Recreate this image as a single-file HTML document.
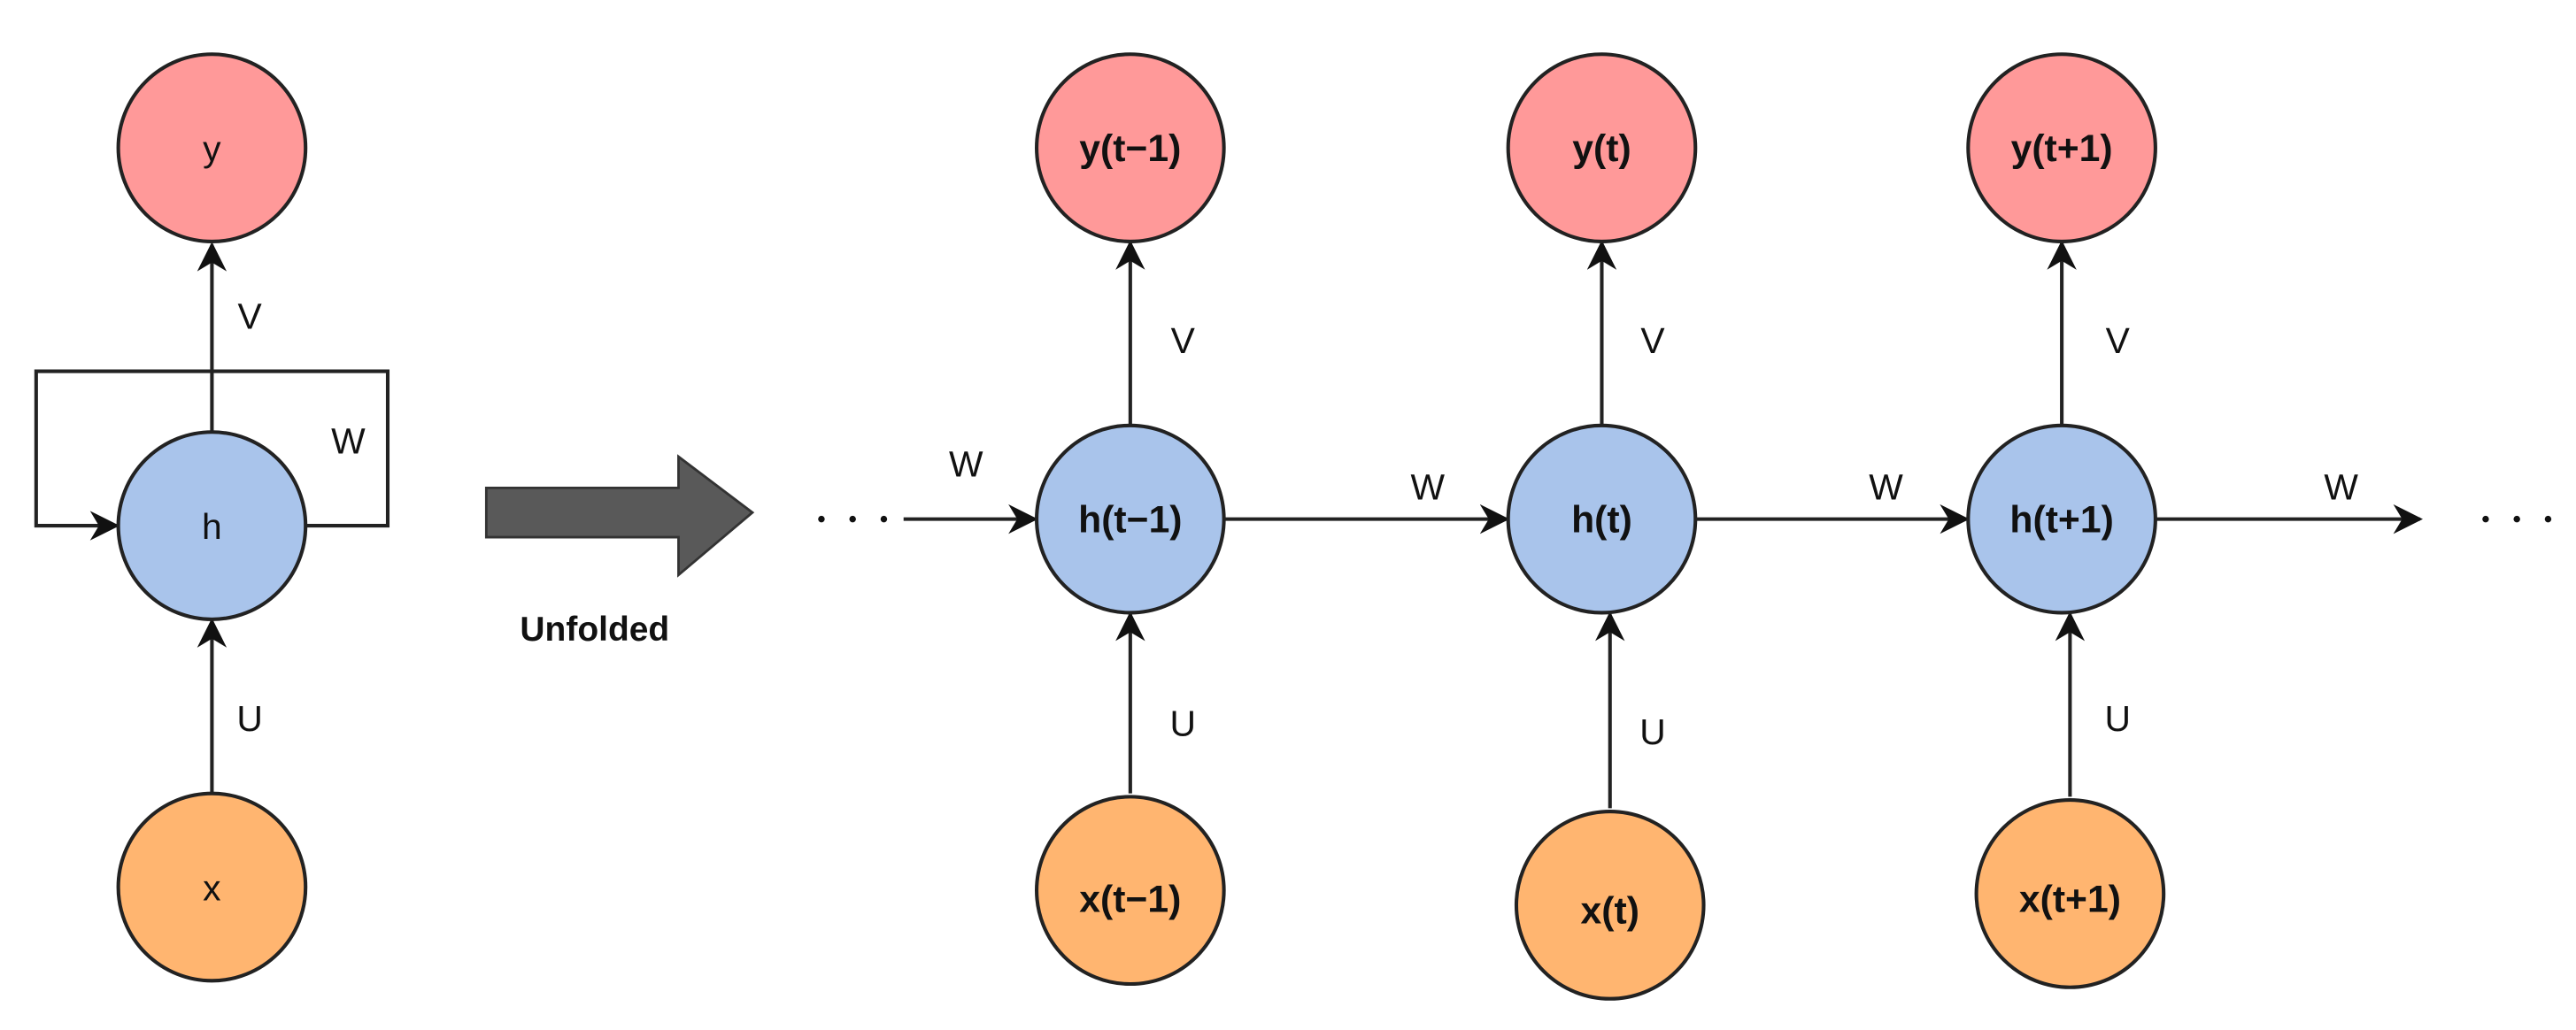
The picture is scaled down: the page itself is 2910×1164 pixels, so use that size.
<!DOCTYPE html>
<html><head><meta charset="utf-8"><style>
html,body{margin:0;padding:0;background:#fff;}
svg{display:block;}
text{font-family:"Liberation Sans",sans-serif;font-size:22px;fill:#111;}
.b{font-weight:bold;font-size:23px;}
</style></head><body>
<svg width="2910" height="1164" viewBox="0 0 1568 627" preserveAspectRatio="none" xmlns="http://www.w3.org/2000/svg">
<defs>
<marker id="m" viewBox="0 0 10 10" refX="9" refY="5" markerWidth="18" markerHeight="18" orient="auto" markerUnits="userSpaceOnUse">
<path d="M0,0 L10,5 L0,10 L3,5 z" fill="#111"/></marker>
</defs>
<g stroke="#222" stroke-width="2.2" fill="none">
<line x1="129" y1="263" x2="129" y2="149" marker-end="url(#m)"/>
<line x1="129" y1="483" x2="129" y2="378" marker-end="url(#m)"/>
<polyline points="186,320 236,320 236,226 22,226 22,320 71,320" marker-end="url(#m)"/>
<line x1="688" y1="259" x2="688" y2="148" marker-end="url(#m)"/>
<line x1="975" y1="259" x2="975" y2="148" marker-end="url(#m)"/>
<line x1="1255" y1="259" x2="1255" y2="148" marker-end="url(#m)"/>
<line x1="688" y1="483" x2="688" y2="374" marker-end="url(#m)"/>
<line x1="980" y1="492" x2="980" y2="374" marker-end="url(#m)"/>
<line x1="1260" y1="485" x2="1260" y2="374" marker-end="url(#m)"/>
<line x1="550" y1="316" x2="630" y2="316" marker-end="url(#m)"/>
<line x1="745" y1="316" x2="917" y2="316" marker-end="url(#m)"/>
<line x1="1032" y1="316" x2="1197" y2="316" marker-end="url(#m)"/>
<line x1="1312" y1="316" x2="1473" y2="316" marker-end="url(#m)"/>
</g>
<g stroke="#222" stroke-width="2.2">
<circle cx="129" cy="90" r="57" fill="#FF9999"/>
<circle cx="129" cy="320" r="57" fill="#A9C4EB"/>
<circle cx="129" cy="540" r="57" fill="#FFB570"/>
<circle cx="688" cy="90" r="57" fill="#FF9999"/>
<circle cx="975" cy="90" r="57" fill="#FF9999"/>
<circle cx="1255" cy="90" r="57" fill="#FF9999"/>
<circle cx="688" cy="316" r="57" fill="#A9C4EB"/>
<circle cx="975" cy="316" r="57" fill="#A9C4EB"/>
<circle cx="1255" cy="316" r="57" fill="#A9C4EB"/>
<circle cx="688" cy="542" r="57" fill="#FFB570"/>
<circle cx="980" cy="551" r="57" fill="#FFB570"/>
<circle cx="1260" cy="544" r="57" fill="#FFB570"/>
</g>
<polygon points="296,297 413,297 413,278 458,312 413,350 413,327 296,327" fill="#595959" stroke="#333" stroke-width="1.5"/>
<text x="362" y="390" text-anchor="middle" class="b" style="font-size:21px">Unfolded</text>
<g text-anchor="middle">
<text x="129" y="98">y</text>
<text x="129" y="328">h</text>
<text x="129" y="548">x</text>
<text x="152" y="200">V</text>
<text x="212" y="276">W</text>
<text x="152" y="445">U</text>
<text x="688" y="98" class="b">y(t−1)</text>
<text x="975" y="98" class="b">y(t)</text>
<text x="1255" y="98" class="b">y(t+1)</text>
<text x="688" y="324" class="b">h(t−1)</text>
<text x="975" y="324" class="b">h(t)</text>
<text x="1255" y="324" class="b">h(t+1)</text>
<text x="688" y="555" class="b">x(t−1)</text>
<text x="980" y="562" class="b">x(t)</text>
<text x="1260" y="555" class="b">x(t+1)</text>
<text x="720" y="215">V</text>
<text x="1006" y="215">V</text>
<text x="1289" y="215">V</text>
<text x="720" y="448">U</text>
<text x="1006" y="453">U</text>
<text x="1289" y="445">U</text>
<text x="588" y="290">W</text>
<text x="869" y="304">W</text>
<text x="1148" y="304">W</text>
<text x="1425" y="304">W</text>
</g>
<g fill="#111">
<circle cx="500" cy="316" r="2"/><circle cx="519" cy="316" r="2"/><circle cx="538" cy="316" r="2"/>
<circle cx="1513" cy="316" r="2"/><circle cx="1532" cy="316" r="2"/><circle cx="1551" cy="316" r="2"/>
</g>
</svg>
</body></html>
